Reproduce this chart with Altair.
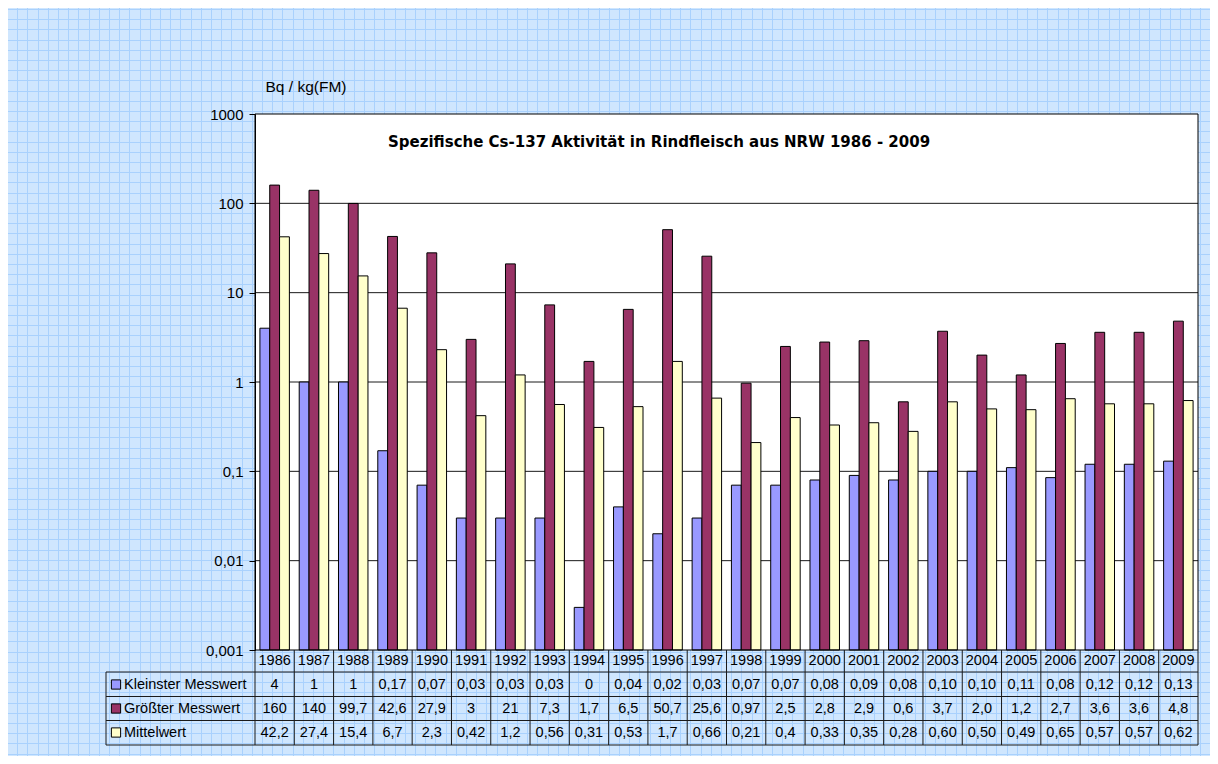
import altair as alt
import pandas as pd
import numpy as np

# ---------------- data ----------------
years = ["1986", "1987", "1988", "1989", "1990", "1991", "1992", "1993", "1994", "1995",
         "1996", "1997", "1998", "1999", "2000", "2001", "2002", "2003", "2004", "2005",
         "2006", "2007", "2008", "2009"]
series_names = ["Kleinster Messwert", "Größter Messwert", "Mittelwert"]

kleinster = [4, 1, 1, 0.17, 0.07, 0.03, 0.03, 0.03, 0.003, 0.04, 0.02, 0.03, 0.07, 0.07,
             0.08, 0.09, 0.08, 0.10, 0.10, 0.11, 0.085, 0.12, 0.12, 0.13]
groesster = [160, 140, 99.7, 42.6, 27.9, 3, 21, 7.3, 1.7, 6.5, 50.7, 25.6, 0.97, 2.5,
             2.8, 2.9, 0.6, 3.7, 2.0, 1.2, 2.7, 3.6, 3.6, 4.8]
mittel = [42.2, 27.4, 15.4, 6.7, 2.3, 0.42, 1.2, 0.56, 0.31, 0.53, 1.7, 0.66, 0.21, 0.4,
          0.33, 0.35, 0.28, 0.60, 0.50, 0.49, 0.65, 0.57, 0.57, 0.62]

kleinster_labels = ["4", "1", "1", "0,17", "0,07", "0,03", "0,03", "0,03", "0", "0,04", "0,02", "0,03",
                    "0,07", "0,07", "0,08", "0,09", "0,08", "0,10", "0,10", "0,11", "0,08", "0,12",
                    "0,12", "0,13"]
groesster_labels = ["160", "140", "99,7", "42,6", "27,9", "3", "21", "7,3", "1,7", "6,5", "50,7", "25,6",
                    "0,97", "2,5", "2,8", "2,9", "0,6", "3,7", "2,0", "1,2", "2,7", "3,6", "3,6", "4,8"]
mittel_labels = ["42,2", "27,4", "15,4", "6,7", "2,3", "0,42", "1,2", "0,56", "0,31", "0,53", "1,7", "0,66",
                 "0,21", "0,4", "0,33", "0,35", "0,28", "0,60", "0,50", "0,49", "0,65", "0,57", "0,57",
                 "0,62"]

y_ticks = [0.001, 0.01, 0.1, 1, 10, 100, 1000]
decades = [0.01, 0.1, 1, 10, 100]

title_text = "Spezifische Cs-137 Aktivität in Rindfleisch aus NRW 1986 - 2009"
unit_text = "Bq / kg(FM)"

# ---------------- style / layout ----------------
colors = ["#9999ff", "#993366", "#ffffcc"]
BG = "#cfe6fe"
GRIDC = "#a9d1fd"
LINE = "#1a1a1a"
FONT = "Liberation Sans"

W, H = 943, 536
PAD_L, PAD_T, PAD_R, PAD_B = 247, 106, 12, 106

ROW_Y = [547, 570.5, 594.5, 618.5]          # year row + three data rows (centres)
HLINES = [558, 582.5, 606.5, 631]           # horizontal table lines
TABLE_BOTTOM = 631
LEG_LEFT = -149

# ---------------- background graph-paper ----------------
step = 10.2
vx = np.round(np.arange(7 - 255, 1210 - 255, step)) + 0.5
hy = np.round(np.arange(9 - 114, 756 - 114, step)) + 0.5
grid_v = alt.Chart(pd.DataFrame({"p": vx})).mark_rule(color=GRIDC, strokeWidth=1).encode(
    x=alt.X("p:Q", scale=None), y=alt.value(-PAD_T), y2=alt.value(H + PAD_B))
grid_h = alt.Chart(pd.DataFrame({"p": hy})).mark_rule(color=GRIDC, strokeWidth=1).encode(
    y=alt.Y("p:Q", scale=None), x=alt.value(-PAD_L), x2=alt.value(W + PAD_R))

# ---------------- main chart ----------------
x_scale = alt.Scale(type="band", domain=years, paddingInner=0, paddingOuter=0)
y_scale = alt.Scale(type="log", domain=[0.001, 1000], nice=False)

y_axis = alt.Axis(values=y_ticks,
                  labelExpr="replace(toString(datum.value), '.', ',')",
                  grid=False, domainColor="black", domainWidth=1,
                  tickColor="black", tickSize=6, tickWidth=1, labelPadding=6,
                  labelFontSize=15, labelColor="black", labelFont=FONT,
                  title=unit_text, titleAngle=0, titleAlign="left",
                  titleBaseline="alphabetic", titleX=10, titleY=-23,
                  titleFontSize=15.5, titleFontWeight="normal", titleFont=FONT,
                  titleColor="black", zindex=1)

one = pd.DataFrame({"a": [0]})

panel = alt.Chart(one).mark_rect(fill="white").encode(
    x=alt.value(0), x2=alt.value(W), y=alt.value(0), y2=alt.value(H))

bars_df = pd.DataFrame({
    "year": years * 3,
    "series": [s for s in series_names for _ in years],
    "value": kleinster + groesster + mittel,
})

dec = alt.Chart(pd.DataFrame({"value": decades})).mark_rule(color=LINE, strokeWidth=1).encode(
    y=alt.Y("value:Q", scale=y_scale, axis=y_axis), x=alt.value(0), x2=alt.value(W))

bars = alt.Chart(bars_df).mark_bar(stroke="black", strokeWidth=1).encode(
    x=alt.X("year:N", scale=x_scale, sort=years, axis=None),
    xOffset=alt.XOffset("series:N", sort=series_names,
                        scale=alt.Scale(domain=series_names, paddingInner=0, paddingOuter=0.5)),
    y=alt.Y("value:Q", scale=y_scale, axis=y_axis),
    y2=alt.datum(0.001),
    color=alt.Color("series:N", scale=alt.Scale(domain=series_names, range=colors), legend=None),
)

title = alt.Chart(pd.DataFrame({"t": [title_text]})).mark_text(
    font="DejaVu Sans", fontWeight="bold", fontSize=15, align="left", baseline="alphabetic",
    color="black").encode(text="t:N", x=alt.value(133), y=alt.value(33))

border = alt.Chart(one).mark_rect(fillOpacity=0, stroke="black", strokeWidth=1).encode(
    x=alt.value(0), x2=alt.value(W), y=alt.value(0), y2=alt.value(H))

# ---------------- data table ----------------
layers = [panel, dec, bars, title, border]

row_sets = [years, kleinster_labels, groesster_labels, mittel_labels]
for ry, labels in zip(ROW_Y, row_sets):
    layers.append(
        alt.Chart(pd.DataFrame({"year": years, "label": labels})).mark_text(
            fontSize=14.5, font=FONT, color="black", baseline="middle", align="center").encode(
            x=alt.X("year:N", scale=x_scale, sort=years, axis=None, bandPosition=0.5),
            y=alt.value(ry), text="label:N"))

# vertical column lines
layers.append(
    alt.Chart(pd.DataFrame({"year": years})).mark_rule(color=LINE, strokeWidth=1).encode(
        x=alt.X("year:N", scale=x_scale, sort=years, axis=None, bandPosition=0),
        y=alt.value(H), y2=alt.value(TABLE_BOTTOM)))
layers.append(
    alt.Chart(pd.DataFrame({"year": [years[-1]]})).mark_rule(color=LINE, strokeWidth=1).encode(
        x=alt.X("year:N", scale=x_scale, sort=years, axis=None, bandPosition=1),
        y=alt.value(H), y2=alt.value(TABLE_BOTTOM)))
# legend box left edge
layers.append(
    alt.Chart(one).mark_rule(color=LINE, strokeWidth=1).encode(
        x=alt.value(LEG_LEFT), y=alt.value(HLINES[0]), y2=alt.value(TABLE_BOTTOM)))
# horizontal lines
for hl in HLINES:
    layers.append(
        alt.Chart(one).mark_rule(color=LINE, strokeWidth=1).encode(
            x=alt.value(LEG_LEFT), x2=alt.value(W), y=alt.value(hl)))

# legend keys and names
for i, name in enumerate(series_names):
    ry = ROW_Y[i + 1]
    layers.append(
        alt.Chart(one).mark_square(size=85, fill=colors[i], stroke="black", strokeWidth=1,
                                   opacity=1, fillOpacity=1).encode(
            x=alt.value(-139), y=alt.value(ry)))
    layers.append(
        alt.Chart(pd.DataFrame({"n": [name]})).mark_text(
            fontSize=14.5, font=FONT, color="black", align="left", baseline="middle").encode(
            text="n:N", x=alt.value(-131), y=alt.value(ry)))

main = alt.layer(*layers)

chart = alt.layer(grid_v, grid_h, main).resolve_scale(
    x="independent", y="independent"
).properties(
    width=W, height=H,
    autosize=alt.AutoSizeParams(type="none"),
    padding={"left": PAD_L, "top": PAD_T, "right": PAD_R, "bottom": PAD_B},
    background=BG,
).configure_view(strokeWidth=0, fill=None)

chart.save("out.html", embed_options={"renderer": "svg", "actions": False})
